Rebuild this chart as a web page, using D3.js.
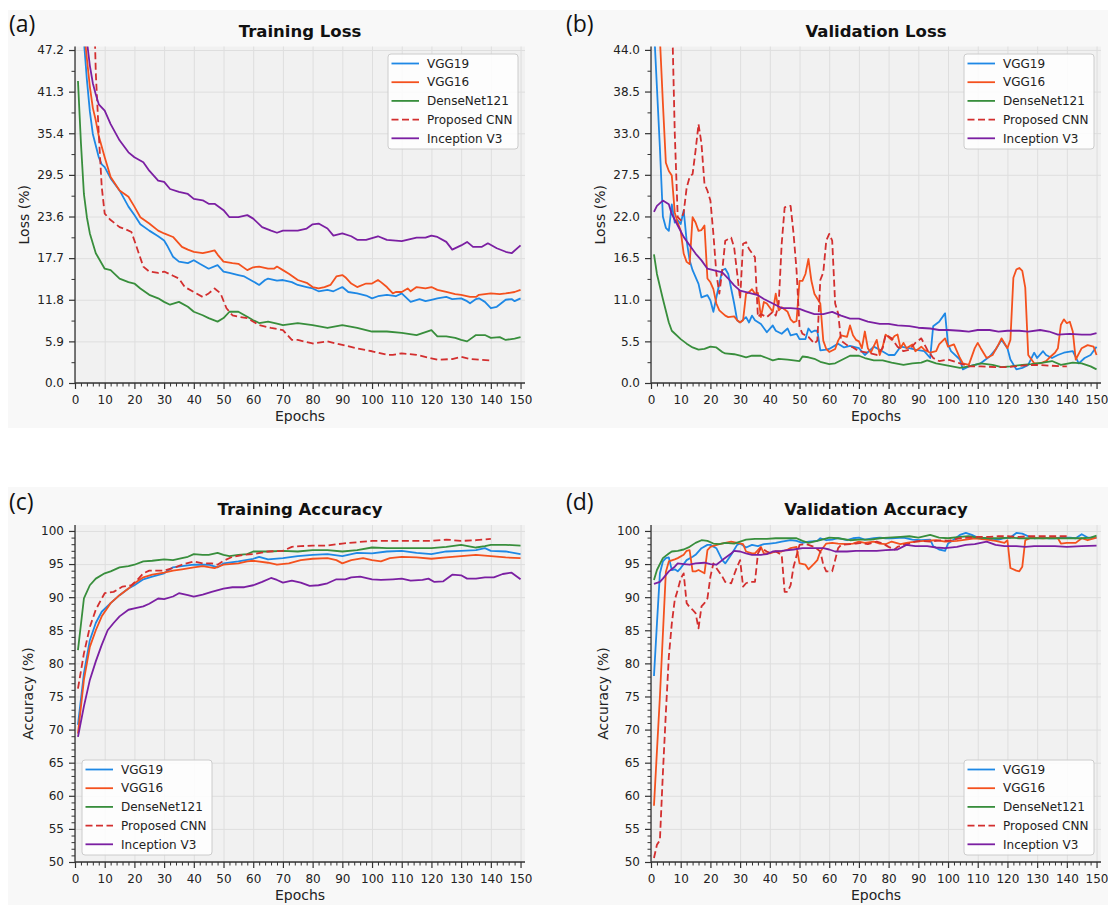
<!DOCTYPE html>
<html>
<head>
<meta charset="utf-8">
<script src="https://cdn.jsdelivr.net/npm/d3@7"></script>
<style>
  body { margin: 0; background: #ffffff; }
  svg  { display: block; font-family: "DejaVu Sans", sans-serif; }
</style>
</head>
<body>
<svg id="chart" width="1108" height="905"></svg>
<script>
/* ── Model training curves · 4 panels ───────────────────────────── */

const MODELS = ["VGG19", "VGG16", "DenseNet121", "Proposed CNN", "Inception V3"];
const MODEL_COLOR = ["#1E88E5", "#F4511E", "#388E3C", "#D32F2F", "#7B1FA2"];
const MODEL_DASH  = [null, null, null, "7,3.5", null];

const EPOCH_TICKS     = d3.range(0, 151, 10);
const LOSS_TRAIN_TICKS = [0, 5.9, 11.8, 17.7, 23.6, 29.5, 35.4, 41.3, 47.2];
const LOSS_VAL_TICKS   = [0, 5.5, 11, 16.5, 22, 27.5, 33, 38.5, 44];
const ACC_TICKS        = [50, 55, 60, 65, 70, 75, 80, 85, 90, 95, 100];

// ── (a) training loss  [epoch, %] ─────────────────────────────────
const tlVGG19 = [[1,65],[2,55],[3,48.5],[4,43],[5,38.5],[6,35.3],[8,32],[9,31],[10,30.6],[12,29],[15,27.3],[18,25],[20,23.8],[22,22.5],[25,21.6],[28,20.8],[30,20.2],[31,19.5],[33,17.9],[35,17.2],[38,17.0],[40,17.4],[42,16.9],[45,16.2],[48,16.7],[50,15.8],[52,15.6],[55,15.3],[57,15.1],[60,14.4],[62,13.9],[64,14.6],[65,14.8],[68,14.5],[70,14.6],[73,14.3],[75,13.9],[78,13.6],[80,13.4],[82,13.0],[85,13.2],[87,13.0],[90,13.6],[92,12.9],[95,12.7],[98,12.4],[100,12.0],[102,12.3],[105,12.5],[108,12.3],[110,12.7],[113,11.5],[116,11.9],[118,11.6],[120,11.8],[122,12.0],[125,12.2],[127,11.9],[130,12.0],[132,11.6],[133,11.3],[135,11.9],[136,12.0],[138,11.5],[140,10.6],[142,10.8],[145,11.8],[147,11.9],[148,11.6],[150,12.0]];
const tlVGG16 = [[1,65],[2,56],[3,50],[4,46],[5,42],[6,39],[7,37.2],[8,35],[10,32],[12,29.2],[15,27.3],[18,26.4],[20,25],[22,23.5],[25,22.6],[28,21.6],[30,21.2],[33,20.7],[36,19.3],[38,18.9],[40,18.6],[43,18.4],[45,18.6],[47,18.8],[48,18.2],[50,17.2],[53,17.0],[55,16.9],[58,16.0],[60,16.4],[62,16.5],[65,16.2],[67,16.2],[68,16.5],[70,16.0],[72,15.5],[75,14.6],[78,14.2],[80,13.6],[82,13.4],[84,13.6],[86,13.9],[88,15.1],[90,15.3],[91,15.0],[93,14.1],[95,13.6],[98,14.1],[100,14.1],[102,14.6],[103,14.3],[105,13.6],[107,12.7],[108,12.9],[110,12.9],[112,13.4],[113,13.0],[115,13.6],[118,13.4],[120,13.6],[122,13.2],[125,12.9],[128,12.6],[130,12.5],[133,12.2],[135,12.2],[136,12.5],[138,12.6],[140,12.7],[143,12.6],[145,12.7],[148,12.9],[150,13.2]];
const tlDense = [[1,42.8],[2,34],[3,26.8],[4,23.5],[5,21.2],[7,18.4],[10,16.2],[12,16.0],[15,14.8],[18,14.3],[20,14.1],[22,13.4],[25,12.5],[28,12.0],[30,11.5],[32,11.1],[35,11.5],[38,10.8],[40,10.1],[43,9.6],[45,9.2],[48,8.7],[50,9.2],[52,10.1],[55,10.1],[58,9.4],[60,8.9],[62,8.5],[65,8.7],[68,8.4],[70,8.2],[75,8.5],[80,8.2],[85,7.8],[90,8.2],[95,7.8],[100,7.3],[105,7.3],[110,7.1],[115,6.8],[120,7.5],[122,6.6],[125,6.6],[128,6.4],[130,6.1],[132,5.9],[135,6.8],[138,6.8],[140,6.4],[143,6.5],[145,6.1],[148,6.3],[150,6.5]];
const tlCNN = [[1,75],[6,60],[7,44],[8,35.3],[9,27.8],[10,24.0],[12,23.1],[15,22.1],[17,21.8],[19,21.4],[20,20.2],[23,16.5],[25,15.8],[28,15.6],[30,15.8],[33,15.2],[35,14.8],[37,13.6],[40,12.9],[43,12.2],[45,12.7],[47,13.4],[49,12.7],[51,10.6],[53,9.6],[55,9.4],[58,9.2],[62,8.2],[66,7.8],[70,7.5],[73,6.1],[75,6.1],[80,5.6],[85,5.9],[90,5.4],[95,4.9],[100,4.5],[105,4.0],[107,4.0],[110,4.2],[115,4.0],[120,3.5],[122,3.3],[127,3.4],[130,3.7],[133,3.4],[136,3.3],[140,3.2]];
const tlIncep = [[1,65],[3,52],[4,48.5],[5,45],[6,42.5],[7,40.9],[8,39.5],[10,38.6],[12,36.7],[15,34.4],[18,32.7],[20,32],[23,31.3],[25,30.1],[28,28.7],[30,28.5],[32,27.5],[35,27.1],[38,26.8],[40,26.1],[43,25.9],[45,25.4],[47,25.4],[50,24.5],[52,23.5],[55,23.5],[58,23.8],[60,23.3],[63,22.1],[66,21.6],[68,21.3],[70,21.6],[75,21.6],[78,21.9],[80,22.5],[82,22.6],[85,21.9],[87,20.9],[90,21.2],[93,20.8],[95,20.3],[98,20.3],[102,20.8],[105,20.3],[110,20.1],[115,20.6],[118,20.6],[120,20.9],[122,20.7],[125,20.0],[127,18.9],[130,19.5],[132,20.0],[134,19.3],[137,19.3],[139,19.8],[142,19.1],[145,18.6],[147,18.4],[150,19.5]];

// ── (b) validation loss ───────────────────────────────────────────
const vlVGG19 = [[1,47],[2,39],[3,31],[4,22],[5,20.5],[6,20.1],[7,23.6],[8,21.2],[9,21.5],[10,21],[11,22.8],[12,18.8],[13,16.2],[14,14.9],[16,13.1],[17,11.3],[19,11.6],[20,10.9],[21,9.4],[22,11.3],[24,14.9],[25,15.1],[26,14.4],[28,10.5],[29,8.3],[30,8.0],[32,8.7],[33,8.0],[34,8.9],[35,8.3],[37,7.8],[39,6.7],[41,7.6],[42,6.9],[44,6.5],[46,7.2],[47,6.3],[49,6.5],[50,5.8],[52,5.8],[53,7.2],[54,6.7],[55,6.9],[56,6.9],[57,4.3],[59,4.4],[60,4.5],[63,5.2],[65,4.7],[67,4.9],[70,4.6],[72,3.7],[75,4.8],[77,4.4],[80,3.7],[82,3.7],[84,4.8],[87,4.6],[89,4.4],[92,4.2],[94,3.3],[95,7.5],[97,8.1],[99,9.2],[100,5.1],[101,4.2],[104,3.1],[105,1.8],[107,2.2],[109,2.4],[111,2.6],[114,3.5],[116,4.4],[118,5.7],[120,4.6],[121,3.1],[123,1.8],[125,2.0],[127,2.4],[129,4.0],[130,3.3],[132,4.2],[133,3.7],[135,3.3],[137,3.7],[139,4.0],[142,4.2],[144,2.6],[146,3.3],[148,3.7],[150,4.8]];
const vlVGG16 = [[1,60],[2,52],[3,45.5],[4,37],[5,29.1],[6,28.0],[7,27.4],[8,22.5],[9,21.2],[10,20.1],[11,17.1],[12,16.0],[13,15.7],[14,21.9],[15,21.2],[16,20.1],[17,20.2],[18,20.8],[19,13.8],[20,13.3],[21,12.4],[22,10.5],[23,9.6],[25,8.9],[26,8.7],[28,8.8],[29,8.3],[30,8.0],[31,8.3],[32,11.8],[33,12.0],[34,12.4],[35,11.8],[36,11.9],[37,8.7],[38,10.7],[39,10.5],[41,9.4],[42,11.8],[43,9.6],[44,10.0],[46,9.4],[47,8.4],[48,8.0],[49,8.2],[50,13.5],[51,13.5],[52,14.4],[53,16.4],[54,13.5],[55,11.8],[57,10.5],[58,5.6],[59,4.5],[60,4.1],[62,4.5],[63,5.6],[64,6.3],[66,6.1],[67,7.6],[68,6.3],[69,5.7],[70,5.5],[71,4.6],[72,6.8],[73,4.6],[74,4.0],[76,5.7],[77,3.7],[78,4.8],[79,6.4],[81,5.7],[82,6.2],[83,6.4],[84,4.6],[85,5.3],[86,4.6],[88,5.1],[89,4.2],[91,4.8],[92,4.4],[94,4.0],[96,4.2],[97,5.1],[99,5.9],[100,4.8],[102,5.1],[104,3.3],[105,2.6],[107,2.4],[109,4.6],[110,5.3],[111,4.6],[113,3.3],[115,3.7],[117,5.1],[118,5.9],[120,4.6],[121,5.7],[122,13.9],[123,15.0],[124,15.2],[125,14.8],[126,12.6],[127,3.7],[129,2.6],[131,2.6],[133,2.9],[134,3.3],[136,4.0],[137,4.6],[138,7.7],[139,8.4],[140,7.9],[141,8.1],[142,6.8],[143,3.1],[145,4.6],[147,5.0],[149,4.8],[150,3.7]];
const vlDense = [[1,17.0],[2,14.4],[4,11.1],[6,8.0],[7,6.9],[10,5.8],[12,5.2],[14,4.7],[16,4.4],[18,4.5],[20,4.8],[22,4.7],[24,4.1],[25,3.9],[28,3.8],[30,3.6],[32,3.4],[34,3.6],[37,3.6],[39,3.3],[41,3.0],[43,3.2],[46,3.1],[48,3.0],[50,2.9],[51,3.5],[53,3.4],[55,3.2],[57,2.8],[60,2.5],[62,2.6],[65,3.2],[67,3.6],[70,3.6],[72,3.3],[75,3.0],[78,3.0],[81,2.7],[85,2.4],[88,2.6],[91,2.7],[93,3.0],[96,2.6],[100,2.3],[104,2.0],[107,2.2],[111,2.6],[115,2.4],[118,2.1],[121,2.2],[125,2.4],[128,2.5],[132,2.7],[135,2.9],[138,2.4],[142,2.7],[145,2.6],[148,2.2],[150,1.8]];
const vlCNN = [[1,90],[7,50],[8,33],[9,21.9],[10,21.5],[11,22.5],[12,25.8],[13,27.2],[14,27.6],[15,30.7],[16,34.2],[17,31.6],[18,26.3],[19,25.4],[20,24.1],[21,19.7],[22,14.5],[23,11.8],[24,14.9],[25,18.8],[26,19.0],[27,19.2],[28,17.9],[29,14.5],[30,11.1],[31,18.4],[32,18.6],[33,17.7],[35,16.6],[36,8.7],[37,9.1],[39,8.7],[41,9.4],[42,8.9],[43,10.5],[44,18.4],[45,23.2],[47,23.4],[48,19.7],[49,14.9],[50,7.4],[51,6.5],[53,6.1],[55,5.2],[56,5.6],[57,13.6],[58,14.6],[59,18.8],[60,19.7],[61,18.8],[62,10.5],[63,9.2],[64,5.6],[66,5.0],[68,4.7],[70,4.2],[73,4.0],[76,3.7],[78,4.6],[79,6.4],[81,5.9],[83,4.8],[85,4.2],[87,4.4],[89,5.3],[91,5.9],[93,4.4],[95,3.3],[97,2.9],[100,3.1],[104,2.6],[107,2.2],[111,2.2],[116,2.1],[120,2.1],[125,2.3],[129,2.4],[134,2.3],[138,2.2],[140,2.2]];
const vlIncep = [[1,22.6],[2,23.4],[4,24.1],[6,23.6],[7,22.3],[9,20.8],[11,19.3],[13,18.2],[15,17.1],[17,16.2],[19,15.1],[21,14.9],[24,14.6],[26,13.8],[28,12.9],[30,12.2],[33,11.9],[36,11.6],[38,11.1],[41,10.5],[44,9.9],[47,9.9],[50,9.8],[52,9.5],[55,9.1],[58,9.1],[61,9.4],[64,8.9],[67,8.5],[70,8.5],[73,8.1],[77,7.8],[80,7.8],[83,7.6],[87,7.5],[90,7.3],[94,7.2],[97,7.0],[100,7.0],[104,6.9],[107,6.8],[110,7.0],[114,7.0],[117,6.8],[120,6.9],[124,6.9],[127,6.8],[131,7.0],[134,6.8],[137,6.4],[141,6.5],[145,6.4],[148,6.4],[150,6.6]];

// ── (c) training accuracy ─────────────────────────────────────────
const taVGG19 = [[1,70.7],[3,78.5],[5,83.5],[7,86.1],[9,87.8],[12,89.1],[15,90.3],[18,91.3],[20,91.8],[23,92.7],[26,93.1],[30,93.6],[33,94.5],[36,94.7],[40,94.9],[45,94.9],[48,94.5],[50,95.1],[55,95.4],[60,95.8],[62,96.1],[65,95.7],[70,95.9],[75,96.2],[80,96.4],[85,96.5],[90,96.2],[95,96.7],[100,96.6],[105,96.9],[110,97.0],[115,96.7],[120,96.5],[125,96.9],[130,97.0],[135,97.1],[138,97.4],[140,97.0],[145,96.9],[150,96.5]];
const taVGG16 = [[1,69.4],[3,77.5],[5,82.5],[7,85.0],[9,87.1],[12,89.1],[15,90.3],[18,91.3],[20,92.1],[23,93.0],[26,93.4],[30,93.7],[33,94.0],[36,94.2],[40,94.5],[43,94.7],[47,94.4],[50,94.9],[55,95.1],[58,95.4],[60,95.5],[65,95.2],[68,94.9],[72,95.1],[76,95.6],[80,95.8],[85,95.9],[88,95.6],[90,95.1],[93,95.6],[97,95.9],[100,95.6],[103,95.4],[106,95.9],[110,96.1],[115,96.0],[120,95.8],[125,96.0],[130,96.2],[135,96.4],[140,96.2],[145,96.0],[150,95.9]];
const taDense = [[1,82.0],[3,89.8],[5,91.8],[7,92.8],[10,93.6],[12,93.9],[15,94.5],[18,94.7],[20,94.9],[23,95.4],[26,95.5],[30,95.7],[33,95.6],[36,95.9],[38,96.1],[40,96.5],[43,96.4],[45,96.4],[48,96.7],[50,96.4],[52,96.2],[55,96.4],[58,96.5],[60,96.9],[65,96.9],[70,97.0],[75,96.9],[80,97.1],[85,97.1],[90,96.9],[95,97.1],[100,97.5],[105,97.4],[110,97.4],[115,97.4],[120,97.4],[125,97.6],[130,97.9],[135,97.5],[138,97.7],[140,97.9],[145,97.9],[150,97.8]];
const taCNN = [[1,76.2],[3,81.5],[5,85.5],[7,88.1],[9,89.8],[10,90.6],[13,90.8],[16,91.6],[19,91.8],[21,92.6],[23,93.6],[25,94.0],[30,94.0],[33,94.4],[36,94.9],[40,95.4],[43,95.1],[46,95.1],[48,94.9],[50,95.5],[53,96.1],[57,96.4],[60,96.5],[65,96.9],[70,97.0],[73,97.6],[76,97.7],[80,97.8],[85,97.8],[90,98.1],[95,98.3],[100,98.5],[105,98.5],[110,98.5],[115,98.5],[120,98.5],[125,98.7],[130,98.5],[135,98.6],[140,98.8]];
const taIncep = [[1,68.9],[3,73.5],[5,77.5],[7,80.3],[9,82.8],[11,85.0],[13,86.1],[15,87.1],[18,88.1],[20,88.3],[23,88.6],[25,89.0],[28,89.8],[30,89.7],[33,90.1],[35,90.6],[38,90.3],[40,90.1],[43,90.4],[46,90.8],[50,91.3],[53,91.5],[57,91.5],[60,91.8],[63,92.3],[66,92.9],[68,92.6],[70,92.2],[73,92.5],[76,92.2],[79,91.7],[82,91.8],[85,92.1],[88,92.7],[91,92.7],[93,93.0],[96,93.1],[100,92.7],[103,92.6],[107,92.7],[110,92.8],[113,92.5],[117,92.6],[119,92.8],[121,92.3],[124,92.4],[127,93.4],[130,93.3],[132,92.8],[135,92.8],[138,93.0],[141,93.0],[144,93.5],[147,93.7],[150,92.7]];

// ── (d) validation accuracy ───────────────────────────────────────
const vaVGG19 = [[1,78.1],[2,86],[3,93.6],[4,95.4],[5,95.9],[6,96.0],[7,94.1],[8,94.2],[9,93.9],[10,94.4],[12,95.6],[14,96.1],[15,96.4],[17,97.4],[19,97.9],[20,97.9],[22,97.4],[24,95.6],[25,95.1],[27,96.4],[29,97.9],[30,98.1],[32,97.5],[34,97.9],[36,97.7],[38,98.0],[40,98.1],[42,98.2],[44,98.4],[47,98.6],[49,98.5],[51,98.2],[53,98.4],[56,98.5],[57,98.9],[59,98.6],[61,98.7],[63,98.9],[66,98.6],[68,98.9],[70,99.0],[72,98.7],[75,98.9],[77,99.0],[79,98.9],[81,98.9],[85,99.0],[88,98.7],[91,98.6],[94,98.7],[95,97.7],[97,97.2],[99,97.0],[100,98.1],[102,98.7],[104,99.4],[106,99.7],[108,99.4],[110,99.0],[113,98.9],[115,98.6],[117,98.7],[119,98.9],[121,99.0],[123,99.7],[125,99.6],[127,99.2],[129,98.9],[132,99.0],[134,98.9],[136,98.9],[138,99.0],[141,99.0],[143,98.9],[145,99.5],[147,99.0],[150,99.0]];
const vaVGG16 = [[1,58.5],[3,75],[5,93.8],[6,95.4],[8,95.7],[9,95.9],[11,96.4],[12,97.0],[13,97.1],[14,93.9],[15,93.9],[16,94.1],[18,93.6],[19,97.1],[20,97.6],[23,98.0],[25,98.2],[27,98.4],[29,98.2],[31,98.0],[32,96.9],[34,96.6],[35,96.6],[37,97.6],[38,96.6],[40,96.6],[42,96.9],[44,96.9],[46,97.2],[47,97.4],[49,97.6],[50,95.1],[52,94.9],[53,94.2],[55,95.1],[56,95.6],[57,96.9],[59,98.1],[61,98.2],[63,98.1],[66,98.0],[68,98.1],[70,98.4],[72,98.2],[75,98.4],[77,98.1],[79,98.0],[81,98.4],[84,98.0],[86,98.2],[89,98.4],[92,98.5],[96,98.6],[99,98.4],[103,98.5],[106,98.7],[109,98.9],[113,98.7],[116,98.5],[119,98.2],[120,98.6],[121,94.4],[123,94.0],[124,93.9],[125,94.6],[126,98.6],[128,99.0],[132,98.9],[135,99.0],[137,98.9],[138,98.1],[140,98.2],[143,98.2],[145,98.9],[147,98.6],[150,99.0]];
const vaDense = [[1,92.6],[2,94.1],[4,95.9],[6,96.6],[7,96.9],[9,97.0],[11,97.2],[13,97.6],[15,98.2],[17,98.6],[19,98.5],[21,98.1],[23,98.0],[25,98.2],[28,98.1],[30,98.4],[32,98.7],[35,98.8],[39,98.8],[42,98.9],[46,98.9],[49,98.9],[51,98.5],[53,98.2],[57,98.6],[60,99.0],[63,98.9],[67,98.6],[70,98.7],[74,98.7],[77,98.9],[80,99.0],[84,99.1],[87,99.2],[90,99.0],[94,99.4],[97,99.0],[100,98.9],[104,99.1],[107,99.2],[110,99.0],[114,98.9],[117,98.9],[121,99.0],[124,98.9],[127,98.9],[131,98.9],[134,98.9],[137,98.9],[141,98.9],[145,98.9],[148,99.0],[150,99.3]];
const vaCNN = [[1,50.6],[2,52.6],[3,53.3],[4,63.4],[5,72.5],[6,81],[7,86],[8,89.6],[9,91.1],[10,92.8],[11,93.6],[12,89.1],[13,88.5],[14,88.1],[15,87.6],[16,85.3],[17,88.6],[18,89.1],[19,89.8],[20,93.1],[21,95.1],[22,94.4],[24,93.1],[25,92.3],[27,92.1],[28,93.4],[29,94.6],[30,95.6],[31,91.6],[32,92.1],[33,92.3],[35,92.3],[36,96.6],[37,97.4],[39,96.9],[40,96.7],[42,96.9],[44,96.4],[45,90.8],[46,90.8],[47,91.8],[48,94.6],[50,97.9],[52,98.0],[53,97.9],[55,97.6],[57,96.9],[58,94.9],[59,93.9],[61,93.9],[62,95.6],[63,97.4],[64,97.9],[67,98.0],[69,98.1],[71,98.2],[73,98.0],[76,98.4],[78,98.1],[80,97.6],[82,97.2],[83,97.6],[85,97.9],[87,98.1],[89,98.4],[91,98.5],[94,98.4],[96,98.5],[98,98.6],[100,98.5],[104,98.9],[107,99.0],[110,99.1],[114,99.1],[117,99.2],[120,99.2],[124,99.1],[127,99.2],[131,99.2],[134,99.2],[137,99.2],[140,99.2]];
const vaIncep = [[1,92.0],[3,92.3],[4,92.8],[6,93.9],[8,94.6],[9,95.1],[11,95.0],[13,94.9],[15,95.1],[18,95.2],[20,95.0],[22,94.9],[24,95.6],[27,96.6],[28,97.0],[30,96.9],[32,96.6],[34,96.4],[37,96.4],[39,96.5],[41,96.9],[44,97.0],[48,97.2],[51,97.4],[55,97.4],[58,97.4],[60,97.2],[62,96.9],[66,96.9],[69,97.0],[72,97.0],[76,97.0],[79,97.1],[83,97.2],[86,97.9],[89,97.7],[93,97.7],[96,97.5],[99,97.4],[103,97.6],[106,97.9],[109,98.0],[113,98.4],[116,97.9],[119,97.7],[123,97.7],[126,97.6],[129,97.7],[133,97.7],[136,97.7],[140,97.6],[145,97.7],[150,97.8]];

// ── Panel layout ──────────────────────────────────────────────────
const PANELS = [
  { tag: "(a)", tagX: 9,   tagY: 31.5, title: "Training Loss",       titleY: 37,
    ylabel: "Loss (%)",     ylabelX: 24,
    x0: 75,  x1: 525, y0: 383, y1: 46.5, yDomain: [0, 47.7],
    yTicks: LOSS_TRAIN_TICKS, yFmt: d3.format(".1f"), xlabelY: 421,
    series: [tlVGG19, tlVGG16, tlDense, tlCNN, tlIncep], legend: [388, 54] },
  { tag: "(b)", tagX: 566, tagY: 31.5, title: "Validation Loss",     titleY: 37,
    ylabel: "Loss (%)",     ylabelX: 600,
    x0: 651, x1: 1101, y0: 383, y1: 46.5, yDomain: [0, 44.45],
    yTicks: LOSS_VAL_TICKS, yFmt: d3.format(".1f"), xlabelY: 421,
    series: [vlVGG19, vlVGG16, vlDense, vlCNN, vlIncep], legend: [964, 54] },
  { tag: "(c)", tagX: 9,   tagY: 510, title: "Training Accuracy",   titleY: 515,
    ylabel: "Accuracy (%)", ylabelX: 28,
    x0: 75,  x1: 525, y0: 862, y1: 525, yDomain: [50, 100.9],
    yTicks: ACC_TICKS, yFmt: d3.format("d"), xlabelY: 900,
    series: [taVGG19, taVGG16, taDense, taCNN, taIncep], legend: [82, 760] },
  { tag: "(d)", tagX: 566, tagY: 510, title: "Validation Accuracy", titleY: 515,
    ylabel: "Accuracy (%)", ylabelX: 603,
    x0: 651, x1: 1101, y0: 862, y1: 525, yDomain: [50, 100.9],
    yTicks: ACC_TICKS, yFmt: d3.format("d"), xlabelY: 900,
    series: [vaVGG19, vaVGG16, vaDense, vaCNN, vaIncep], legend: [964, 760] },
];

const svg = d3.select("#chart");

// figure background bands
svg.append("rect").attr("x", 8).attr("y", 10).attr("width", 1100).attr("height", 418).attr("fill", "#f8f8f8");
svg.append("rect").attr("x", 8).attr("y", 487).attr("width", 1100).attr("height", 418).attr("fill", "#f8f8f8");

PANELS.forEach((p, i) => drawPanel(p, i));

function drawPanel(p, idx) {
  const x = d3.scaleLinear().domain([0, 151.5]).range([p.x0, p.x1]);
  const y = d3.scaleLinear().domain(p.yDomain).range([p.y0, p.y1]);
  const W = p.x1 - p.x0, H = p.y0 - p.y1;

  const g = svg.append("g");

  // axes background
  g.append("rect")
    .attr("x", p.x0).attr("y", p.y1).attr("width", W).attr("height", H)
    .attr("fill", "#f1f1f1");

  // grid
  g.append("g").attr("transform", `translate(0,${p.y0})`)
    .call(d3.axisBottom(x).tickValues(EPOCH_TICKS).tickSize(-H).tickFormat(""))
    .call(s => s.select(".domain").remove())
    .call(s => s.selectAll("line").attr("stroke", "#dedede").attr("stroke-width", 1));
  g.append("g").attr("transform", `translate(${p.x0},0)`)
    .call(d3.axisLeft(y).tickValues(p.yTicks).tickSize(-W).tickFormat(""))
    .call(s => s.select(".domain").remove())
    .call(s => s.selectAll("line").attr("stroke", "#dedede").attr("stroke-width", 1));

  // clipped lines
  const clipId = `clip-${idx}`;
  svg.append("clipPath").attr("id", clipId)
    .append("rect").attr("x", p.x0).attr("y", p.y1).attr("width", W).attr("height", H);

  const line = d3.line().x(d => x(d[0])).y(d => y(d[1]));
  const lines = g.append("g").attr("clip-path", `url(#${clipId})`);
  p.series.forEach((data, k) => {
    lines.append("path")
      .datum(data)
      .attr("d", line)
      .attr("fill", "none")
      .attr("stroke", MODEL_COLOR[k])
      .attr("stroke-width", 1.8)
      .attr("stroke-linejoin", "round")
      .attr("stroke-dasharray", MODEL_DASH[k]);
  });

  // minor ticks
  const xMinor = d3.range(0, 151, 2).filter(v => v % 10 !== 0);
  const yMinor = p.yTicks[1] - p.yTicks[0] === 5
    ? d3.range(p.yTicks[0], 101, 1).filter(v => v % 5 !== 0)
    : d3.pairs(p.yTicks, (a, b) => (a + b) / 2);

  g.append("g").attr("transform", `translate(0,${p.y0})`)
    .call(d3.axisBottom(x).tickValues(xMinor).tickSize(3.5).tickFormat(""))
    .call(s => s.select(".domain").remove())
    .call(s => s.selectAll("line").attr("stroke", "#333").attr("stroke-width", 1));
  g.append("g").attr("transform", `translate(${p.x0},0)`)
    .call(d3.axisLeft(y).tickValues(yMinor).tickSize(3.5).tickFormat(""))
    .call(s => s.select(".domain").remove())
    .call(s => s.selectAll("line").attr("stroke", "#333").attr("stroke-width", 1));

  // major axes
  const xAxis = g.append("g").attr("transform", `translate(0,${p.y0})`)
    .call(d3.axisBottom(x).tickValues(EPOCH_TICKS).tickSize(6).tickPadding(6).tickSizeOuter(0));
  const yAxis = g.append("g").attr("transform", `translate(${p.x0},0)`)
    .call(d3.axisLeft(y).tickValues(p.yTicks).tickFormat(p.yFmt).tickSize(6).tickPadding(5).tickSizeOuter(0));
  [xAxis, yAxis].forEach(a => {
    a.attr("font-family", "DejaVu Sans").attr("font-size", 12);
    a.selectAll("text").attr("fill", "#222");
    a.selectAll("line").attr("stroke", "#333").attr("stroke-width", 1.2);
    a.select(".domain").attr("stroke", "#333").attr("stroke-width", 1.3);
  });
  // domain only spans the data area
  xAxis.select(".domain").attr("d", `M${p.x0},0H${p.x1}`);
  yAxis.select(".domain").attr("d", `M0,${p.y0}V${p.y1}`);

  // texts
  g.append("text")
    .attr("x", (p.x0 + p.x1) / 2).attr("y", p.titleY)
    .attr("text-anchor", "middle")
    .attr("font-size", 16.5).attr("font-weight", "bold").attr("fill", "#111")
    .text(p.title);

  g.append("text")
    .attr("x", p.tagX).attr("y", p.tagY)
    .attr("font-family", "'Open Sans', 'Noto Sans', sans-serif")
    .attr("font-size", 23).attr("fill", "#111")
    .text(p.tag);

  g.append("text")
    .attr("x", (p.x0 + p.x1) / 2).attr("y", p.xlabelY)
    .attr("text-anchor", "middle")
    .attr("font-size", 14).attr("fill", "#222")
    .text("Epochs");

  g.append("text")
    .attr("transform", `translate(${p.ylabelX},${(p.y0 + p.y1) / 2}) rotate(-90)`)
    .attr("text-anchor", "middle").attr("dy", "0.35em")
    .attr("font-size", 14).attr("fill", "#222")
    .text(p.ylabel);

  drawLegend(g, p.legend[0], p.legend[1]);
}

// ── Legend ────────────────────────────────────────────────────────
function drawLegend(g, lx, ly) {
  const lg = g.append("g").attr("transform", `translate(${lx},${ly})`);
  lg.append("rect")
    .attr("width", 130).attr("height", 95).attr("rx", 3)
    .attr("fill", "rgba(255,255,255,0.85)")
    .attr("stroke", "#cccccc").attr("stroke-width", 1);

  MODELS.forEach((name, k) => {
    const cy = 9.5 + k * 18.7;
    lg.append("line")
      .attr("x1", 3.5).attr("x2", 31).attr("y1", cy).attr("y2", cy)
      .attr("stroke", MODEL_COLOR[k]).attr("stroke-width", 1.8)
      .attr("stroke-dasharray", MODEL_DASH[k]);
    lg.append("text")
      .attr("x", 39).attr("y", cy).attr("dy", "0.35em")
      .attr("font-size", 12).attr("fill", "#222")
      .text(name);
  });
}
</script>
</body>
</html>
